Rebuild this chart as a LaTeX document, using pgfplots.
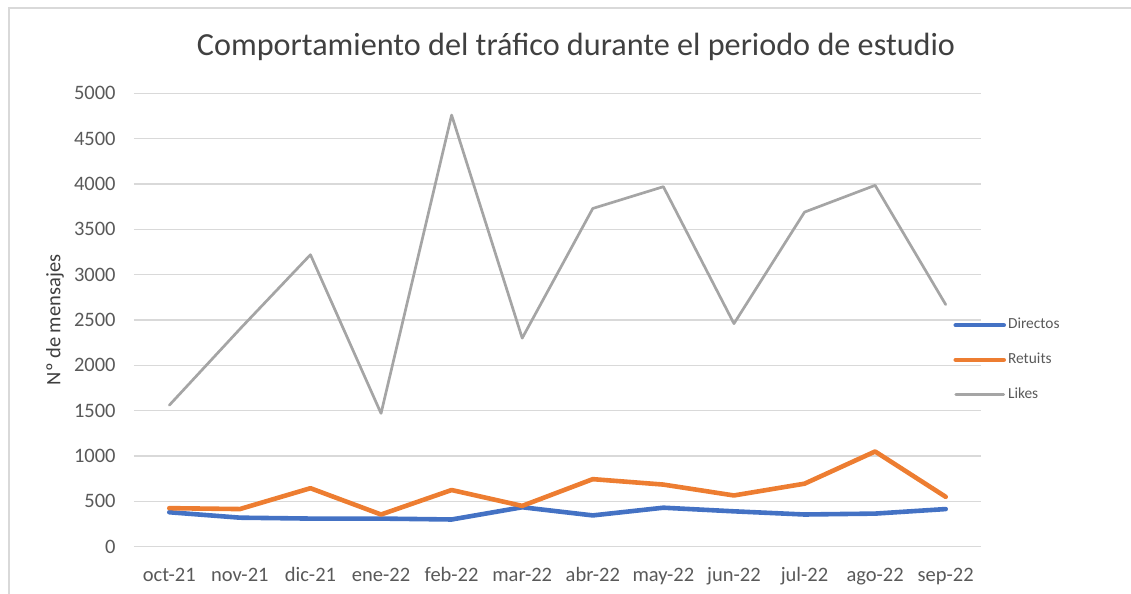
\documentclass[border=0pt]{standalone}
\usepackage{pgfplots}
\pgfplotsset{compat=1.18}
\usepackage{fontspec}
\setmainfont{Carlito}
\definecolor{cblue}{HTML}{4472C4}
\definecolor{corange}{HTML}{ED7D31}
\definecolor{cgray}{HTML}{A5A5A5}
\definecolor{gridc}{HTML}{D9D9D9}
\definecolor{txt}{HTML}{595959}
\definecolor{ttl}{HTML}{404040}

\begin{document}
\begin{tikzpicture}
\useasboundingbox (0,0) rectangle (565.5pt,297pt);
\draw[gridc, line width=0.75pt] (4.5pt,-5pt) -- (4.5pt,293pt) -- (570pt,293pt);
\node[anchor=base, text=ttl, font=\fontsize{16.1}{19}\selectfont] at (288pt,269pt) {Comportamiento del tráfico durante el periodo de estudio};
\begin{axis}[
  at={(67pt,23.65pt)}, anchor=south west,
  width=423.5pt, height=226.7pt, scale only axis,
  xmin=-0.5, xmax=11.5, ymin=0, ymax=5000,
  xtick={0,...,11},
  xticklabels={oct-21,nov-21,dic-21,ene-22,feb-22,mar-22,abr-22,may-22,jun-22,jul-22,ago-22,sep-22},
  ytick={0,500,...,5000},
  axis line style={draw=none},
  major tick length=0pt,
  ymajorgrids,
  grid style={gridc, line width=0.65pt},
  tick label style={font=\fontsize{10.25}{12}\selectfont, text=txt},
  /pgf/number format/assume math mode=true,
  /pgf/number format/1000 sep={},
  scaled y ticks=false,
  yticklabel style={anchor=east, inner sep=0pt, xshift=-9pt},
  xticklabel style={anchor=base, inner sep=0pt, yshift=-17.2pt},
  ylabel={Nº de mensajes},
  ylabel style={at={(axis description cs:-0.0933,0.5)}, anchor=center, font=\fontsize{10.25}{12}\selectfont, text=txt!70!black},
  legend style={at={(0.967,0.4118)}, anchor=west, draw=none, fill=none,
    font=\fontsize{7.7}{9}\selectfont, text=txt, inner sep=0pt, row sep=8.6pt,
    nodes={inner sep=1pt}},
  legend cell align=left,
  legend image code/.code={\draw[#1] (0pt,0pt) -- (24pt,0pt);},
  every axis plot/.append style={line cap=round, line join=round, mark=none},
]
\addplot[cblue, line width=2.3pt] coordinates {
(0,380) (1,320) (2,310) (3,310) (4,300) (5,435) (6,345) (7,430) (8,390) (9,355) (10,365) (11,415)};
\addlegendentry{Directos}
\addplot[corange, line width=2.3pt] coordinates {
(0,425) (1,415) (2,645) (3,355) (4,625) (5,450) (6,745) (7,685) (8,565) (9,695) (10,1050) (11,550)};
\addlegendentry{Retuits}
\addplot[cgray, line width=1.35pt] coordinates {
(0,1560) (1,2400) (2,3220) (3,1470) (4,4760) (5,2300) (6,3730) (7,3970) (8,2460) (9,3690) (10,3985) (11,2670)};
\addlegendentry{Likes}
\end{axis}
\end{tikzpicture}
\end{document}
